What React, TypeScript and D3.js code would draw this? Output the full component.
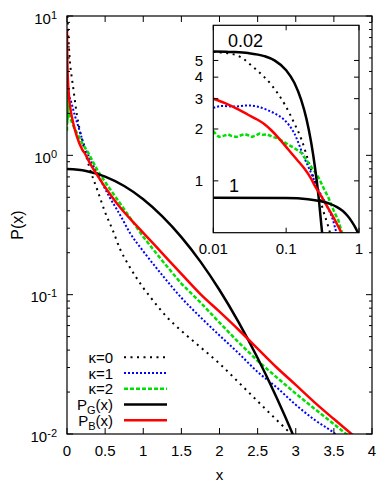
import React from "react";
import * as d3 from "d3";

// main panel series, [x, P(x)]
const kappa0: [number, number][] = [
  [0.005, 10], [0.012, 8.4], [0.025, 6.0], [0.04, 4.6], [0.06, 3.7], [0.08, 3.1], [0.1, 2.55],
  [0.13, 1.95], [0.17, 1.5], [0.22, 1.15], [0.3, 0.8], [0.4, 0.56], [0.5, 0.39], [0.6, 0.29],
  [0.7, 0.21], [0.8, 0.166], [0.9, 0.135], [1.0, 0.112], [1.1, 0.095], [1.3, 0.07], [1.5, 0.055],
  [1.75, 0.042], [2.0, 0.032], [2.25, 0.0235], [2.5, 0.0172], [2.75, 0.0126], [3.0, 0.0093],
];
const kappa1: [number, number][] = [
  [0, 2.75], [0.04, 2.55], [0.1, 1.95], [0.15, 1.6], [0.2, 1.3], [0.25, 1.09], [0.32, 0.9],
  [0.43, 0.68], [0.56, 0.5], [0.7, 0.37], [0.83, 0.275], [1.0, 0.205], [1.25, 0.138], [1.5, 0.095],
  [1.75, 0.069], [2.0, 0.051], [2.25, 0.038], [2.5, 0.0279], [2.75, 0.0216], [3.0, 0.0162],
  [3.25, 0.0126], [3.5, 0.0102], [3.55, 0.0097],
];
const kappa2: [number, number][] = [
  [0, 1.5], [0.002, 2.9], [0.004, 1.7], [0.006, 2.6], [0.008, 1.8], [0.011, 2.3], [0.014, 1.85],
  [0.02, 2.05], [0.03, 1.95], [0.045, 1.82], [0.06, 1.75], [0.1, 1.55], [0.15, 1.38], [0.2, 1.22],
  [0.28, 1.04], [0.4, 0.78], [0.52, 0.62], [0.75, 0.41], [1.0, 0.26], [1.25, 0.175], [1.5, 0.12],
  [1.75, 0.088], [2.0, 0.063], [2.25, 0.0455], [2.5, 0.0335], [2.75, 0.0255], [3.0, 0.0195],
  [3.25, 0.0151], [3.5, 0.0118], [3.7, 0.0096],
];
const gaussMain: [number, number][] = [
  [0, 0.798], [0.25, 0.773], [0.5, 0.704], [0.75, 0.602], [1.0, 0.484], [1.25, 0.365],
  [1.5, 0.259], [1.75, 0.1726], [2.0, 0.108], [2.25, 0.0635], [2.5, 0.0351], [2.75, 0.0182],
  [3.0, 0.00886], [3.1, 0.0065],
];
const brownMain: [number, number][] = [
  [0, 7.8], [0.004, 5.0], [0.01, 3.7], [0.017, 3.1], [0.03, 2.5], [0.048, 2.1], [0.08, 1.72],
  [0.127, 1.38], [0.2, 1.1], [0.24, 1.02], [0.3, 0.88], [0.39, 0.73], [0.56, 0.53], [0.7, 0.42],
  [0.85, 0.34], [1.0, 0.278], [1.25, 0.198], [1.5, 0.141], [1.75, 0.101], [2.0, 0.0755],
  [2.25, 0.056], [2.5, 0.041], [2.75, 0.03], [3.0, 0.0225], [3.25, 0.0168], [3.5, 0.0128],
  [3.75, 0.0098],
];

// inset series (log-log)
const inK0: [number, number][] = [
  [0.01, 5.6], [0.02, 5.4], [0.037, 4.5], [0.063, 3.6], [0.096, 2.77], [0.13, 2.15], [0.163, 1.73],
  [0.2, 1.32], [0.235, 1.06], [0.28, 0.85], [0.32, 0.68], [0.38, 0.54], [0.41, 0.48],
];
const inK1: [number, number][] = [
  [0.01, 2.65], [0.013, 2.72], [0.02, 2.7], [0.03, 2.74], [0.04, 2.7], [0.055, 2.58], [0.07, 2.46],
  [0.09, 2.3], [0.11, 2.1], [0.13, 1.88], [0.17, 1.42], [0.22, 1.11], [0.28, 0.88], [0.36, 0.72],
  [0.44, 0.59], [0.5, 0.48],
];
const inK2: [number, number][] = [
  [0.01, 1.95], [0.011, 1.85], [0.012, 1.8], [0.014, 1.83], [0.016, 1.86], [0.018, 1.82],
  [0.021, 1.8], [0.024, 1.84], [0.027, 1.87], [0.03, 1.84], [0.034, 1.8], [0.038, 1.83],
  [0.043, 1.88], [0.048, 1.85], [0.055, 1.86], [0.065, 1.8], [0.075, 1.77], [0.09, 1.7],
  [0.107, 1.62], [0.13, 1.55], [0.163, 1.45], [0.2, 1.28], [0.24, 1.15], [0.28, 1.04], [0.33, 0.9],
  [0.38, 0.8], [0.45, 0.67], [0.52, 0.59], [0.6, 0.48],
];
const inGaussA: [number, number][] = [
  [0.01, 5.63], [0.015, 5.61], [0.02, 5.59], [0.03, 5.52], [0.05, 5.3], [0.07, 4.99], [0.1, 4.39],
  [0.13, 3.7], [0.16, 2.97], [0.19, 2.29], [0.22, 1.68], [0.25, 1.18], [0.28, 0.795], [0.31, 0.511],
  [0.33, 0.374],
];
const inGaussB: [number, number][] = [
  [0.01, 0.798], [0.1, 0.794], [0.2, 0.782], [0.3, 0.761], [0.4, 0.735], [0.5, 0.704], [0.6, 0.668],
  [0.7, 0.625], [0.8, 0.578], [0.9, 0.532], [1.0, 0.484],
];
const inBrown: [number, number][] = [
  [0.01, 3.0], [0.0145, 2.83], [0.022, 2.6], [0.03, 2.42], [0.04, 2.27], [0.05, 2.14], [0.063, 1.96],
  [0.08, 1.76], [0.107, 1.52], [0.14, 1.33], [0.18, 1.17], [0.22, 1.03], [0.25, 0.93], [0.29, 0.84],
  [0.38, 0.69], [0.44, 0.62], [0.5, 0.56], [0.57, 0.5], [0.6, 0.47],
];

const xTicks = [0, 0.5, 1, 1.5, 2, 2.5, 3, 3.5, 4];
const yExps = [-2, -1, 0, 1];
const insetYTicks = [1, 2, 3, 4, 5];
const insetXTicks = ["0.01", "0.1", "1"];
const legendLabels = ["κ=0", "κ=1", "κ=2", "P_G(x)", "P_B(x)"];

const FONT = "Liberation Sans, Arial, Helvetica, sans-serif";

const styles = [
  { stroke: "#000", width: 2, dash: "2,4.5" },
  { stroke: "#0000ff", width: 2, dash: "2,2" },
  { stroke: "#00e000", width: 2.5, dash: "4,2" },
  { stroke: "#000", width: 2.5, dash: undefined },
  { stroke: "#ff0000", width: 2.5, dash: undefined },
];

export default function App() {
  const mx = d3.scaleLinear().domain([0, 4]).range([67, 372]);
  const my = d3.scaleLog().domain([0.01, 10]).range([434, 16]);
  const ix = d3.scaleLog().domain([0.01, 1]).range([213.3, 359]);
  const iy = d3.scaleLog().domain([0.5, 8]).range([232.7, 25.3]);

  const mainLine = (smooth: boolean) =>
    d3.line<[number, number]>().x(d => mx(d[0])).y(d => my(d[1]))
      .curve(smooth ? d3.curveMonotoneX : d3.curveLinear);
  const insetLine = (smooth: boolean) =>
    d3.line<[number, number]>().x(d => ix(d[0])).y(d => iy(d[1]))
      .curve(smooth ? d3.curveMonotoneX : d3.curveLinear);

  const mainSeries = [kappa0, kappa1, kappa2, gaussMain, brownMain];
  const insetSeries = [inK0, inK1, inK2, inGaussA, inBrown];

  const minor: number[] = [];
  for (let e = -2; e < 1; e++) for (let m = 2; m <= 9; m++) minor.push(m * Math.pow(10, e));

  const [x0, x1] = mx.range();
  const [y1, y0] = my.range();

  return (
    <svg width={382} height={498} style={{ position: "absolute", left: 0, top: 0, background: "#fff" }}
      fontFamily={FONT}>
      <defs>
        <clipPath id="mainClip"><rect x={x0} y={y0} width={x1 - x0} height={y1 - y0} /></clipPath>
        <clipPath id="insetClip"><rect x={213.3} y={25.3} width={359 - 213.3} height={232.7 - 25.3} /></clipPath>
      </defs>

      <g clipPath="url(#mainClip)" fill="none">
        {mainSeries.map((s, i) => (
          <path key={i} d={mainLine(i !== 2)(s) || ""} stroke={styles[i].stroke}
            strokeWidth={styles[i].width} strokeDasharray={styles[i].dash} />
        ))}
      </g>

      {/* frame and ticks */}
      <rect x={x0} y={y0} width={x1 - x0} height={y1 - y0} fill="none" stroke="#000" strokeWidth={1.2} />
      {xTicks.map(t => (
        <g key={t}>
          <line x1={mx(t)} x2={mx(t)} y1={y1} y2={y1 - 6} stroke="#000" />
          <line x1={mx(t)} x2={mx(t)} y1={y0} y2={y0 + 6} stroke="#000" />
          <text x={mx(t)} y={456} fontSize={15} textAnchor="middle">{t}</text>
        </g>
      ))}
      {yExps.map(e => (
        <g key={e}>
          <line x1={x0} x2={x0 + 6} y1={my(Math.pow(10, e))} y2={my(Math.pow(10, e))} stroke="#000" />
          <line x1={x1} x2={x1 - 6} y1={my(Math.pow(10, e))} y2={my(Math.pow(10, e))} stroke="#000" />
          <text x={57} y={my(Math.pow(10, e)) + 7.5} fontSize={15} textAnchor="end">
            10<tspan dy={-5} fontSize={11}>{e}</tspan>
          </text>
        </g>
      ))}
      {minor.map(v => (
        <g key={v}>
          <line x1={x0} x2={x0 + 3} y1={my(v)} y2={my(v)} stroke="#000" />
          <line x1={x1} x2={x1 - 3} y1={my(v)} y2={my(v)} stroke="#000" />
        </g>
      ))}
      <text transform={`translate(23,225) rotate(-90)`} fontSize={16} textAnchor="middle">P(x)</text>
      <text x={219.5} y={480} fontSize={15} textAnchor="middle">x</text>

      {/* legend */}
      {legendLabels.map((lab, i) => {
        const yy = 357.3 + i * 15.75;
        const sub = lab.startsWith("P_");
        return (
          <g key={lab}>
            <line x1={124} x2={167} y1={yy} y2={yy} stroke={styles[i].stroke}
              strokeWidth={styles[i].width} strokeDasharray={styles[i].dash} />
            <text x={113} y={yy + 5.5} fontSize={15} textAnchor="end">
              {sub ? (
                <>P<tspan dy={4} fontSize={11}>{lab[2]}</tspan><tspan dy={-4}>(x)</tspan></>
              ) : lab}
            </text>
          </g>
        );
      })}

      {/* inset */}
      <rect x={213.3} y={25.3} width={359 - 213.3} height={232.7 - 25.3} fill="#fff" />
      <g clipPath="url(#insetClip)" fill="none">
        {insetSeries.map((s, i) => (
          <path key={i} d={insetLine(i !== 2)(s) || ""} stroke={styles[i].stroke}
            strokeWidth={styles[i].width} strokeDasharray={styles[i].dash} />
        ))}
        <path d={insetLine(true)(inGaussB) || ""} stroke="#000" strokeWidth={2.5} />
      </g>
      <rect x={213.3} y={25.3} width={359 - 213.3} height={232.7 - 25.3} fill="none" stroke="#000" strokeWidth={1.2} />
      {insetYTicks.map(t => (
        <g key={t}>
          <line x1={213.3} x2={218.3} y1={iy(t)} y2={iy(t)} stroke="#000" />
          <line x1={359} x2={354} y1={iy(t)} y2={iy(t)} stroke="#000" />
          <text x={203} y={iy(t) + 5.3} fontSize={15} textAnchor="end">{t}</text>
        </g>
      ))}
      {insetXTicks.map(t => (
        <g key={t}>
          <line x1={ix(+t)} x2={ix(+t)} y1={232.7} y2={227.7} stroke="#000" />
          <line x1={ix(+t)} x2={ix(+t)} y1={25.3} y2={30.3} stroke="#000" />
          <text x={ix(+t)} y={254} fontSize={15} textAnchor="middle">{t}</text>
        </g>
      ))}
      <text x={228} y={47.3} fontSize={18}>0.02</text>
      <text x={229} y={191.7} fontSize={18}>1</text>
    </svg>
  );
}
